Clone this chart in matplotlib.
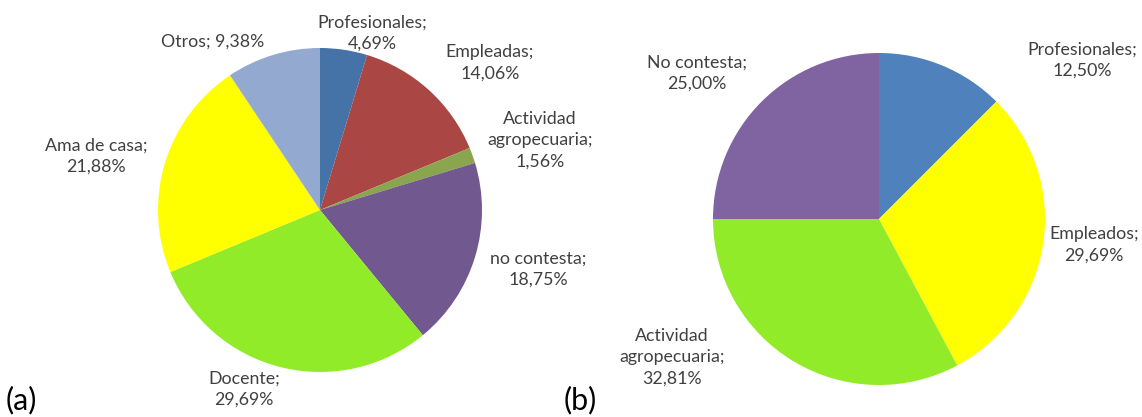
import matplotlib.pyplot as plt

# (a) ocupacion - datos
cat_a = ['Profesionales', 'Empleadas', 'Actividad\nagropecuaria', 'no contesta',
         'Docente', 'Ama de casa', 'Otros']
val_a = [4.69, 14.06, 1.56, 18.75, 29.69, 21.88, 9.38]
col_a = ['#4572A7', '#AA4643', '#89A54E', '#71588F', '#92EB28', '#FFFF00', '#93A9CF']

# (b)
cat_b = ['Profesionales', 'Empleados', 'Actividad\nagropecuaria', 'No contesta']
val_b = [12.50, 29.69, 32.81, 25.00]
col_b = ['#4F81BD', '#FFFF00', '#92EB28', '#8064A2']

W, H = 1142, 417
plt.rcParams['font.family'] = ['Lato', 'DejaVu Sans']
TXT = '#404040'
FS = 12.8

fig = plt.figure(figsize=(W / 100, H / 100), dpi=100)
ax = fig.add_axes([0, 0, 1, 1])

ax.pie(val_a, colors=col_a, startangle=90, counterclock=False,
       center=(320, H - 210), radius=162,
       wedgeprops=dict(edgecolor='none', linewidth=0))
ax.pie(val_b, colors=col_b, startangle=90, counterclock=False,
       center=(879, H - 219), radius=166,
       wedgeprops=dict(edgecolor='none', linewidth=0))

ax.set_xlim(0, W)
ax.set_ylim(0, H)
ax.set_aspect('equal')
ax.axis('off')


def fmt(v):
    return ('%.2f' % v).replace('.', ',') + '%'


# posiciones de las etiquetas (pixeles)
pos_a = [(372, 33), (490, 63), (540, 140), (538, 269), (244, 389), (96, 156), (213, 42)]
pos_b = [(1082, 60), (1094, 245), (672, 357), (697, 73)]

for c, v, (x, y) in zip(cat_a, val_a, pos_a):
    if c == 'Otros':
        s = c + '; ' + fmt(v)
    else:
        s = c + ';\n' + fmt(v)
    ax.text(x, H - y, s, ha='center', va='center', fontsize=FS, color=TXT,
            linespacing=1.4)

for c, v, (x, y) in zip(cat_b, val_b, pos_b):
    ax.text(x, H - y, c + ';\n' + fmt(v), ha='center', va='center', fontsize=FS,
            color=TXT, linespacing=1.4)

ax.text(6, H - 400, '(a)', ha='left', va='center', fontsize=22, color='black')
ax.text(564, H - 400, '(b)', ha='left', va='center', fontsize=22, color='black')

fig.savefig('out.png', dpi=100)
